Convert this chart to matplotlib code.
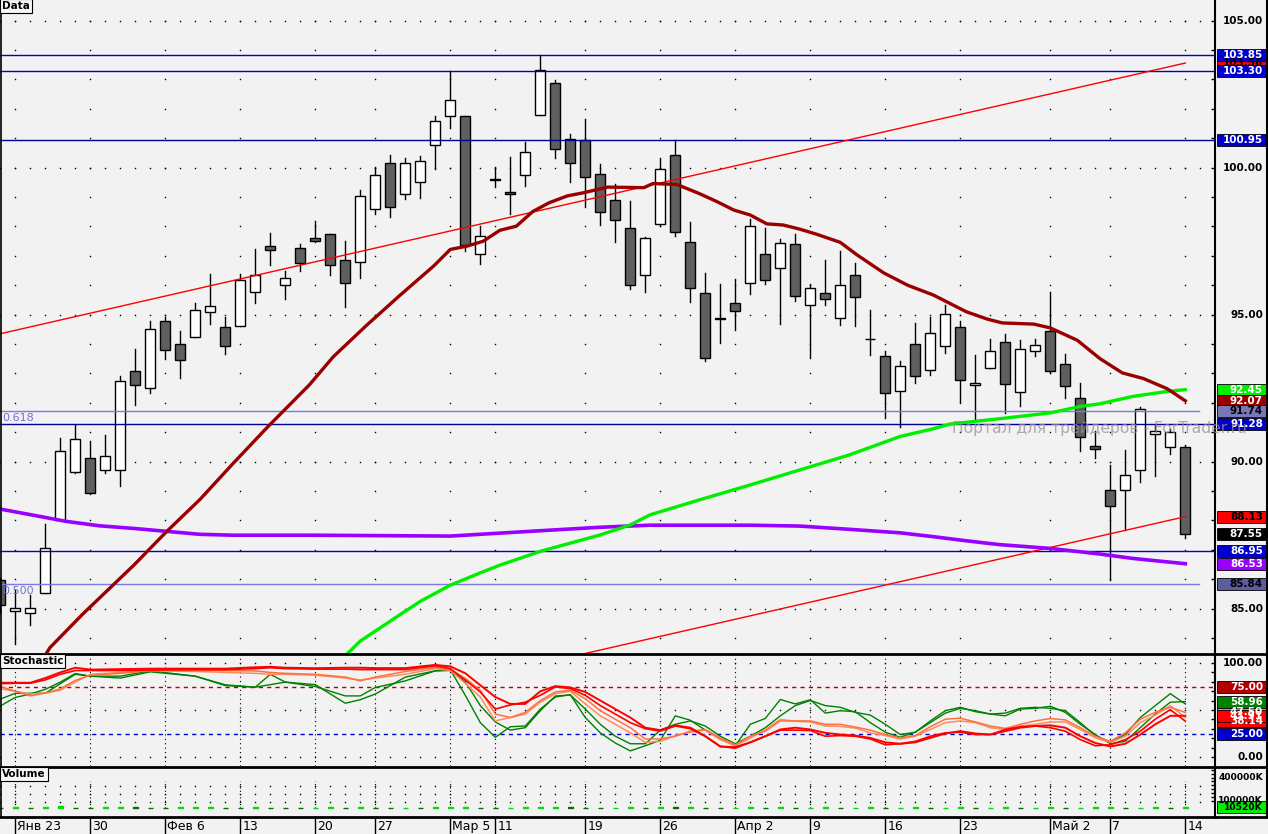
import numpy as np
import matplotlib
matplotlib.use("Agg")
import matplotlib.pyplot as plt
from matplotlib.patches import Rectangle
from matplotlib.lines import Line2D
import matplotlib.transforms as mtrans

W, H = 1268, 834

# one candle per trading day, index 0 = Jan 23
day_idx = list(range(-1, 79))
opens = [85.97, 84.93, 84.84, 85.55, 88.00, 89.66, 90.14, 89.73, 89.73, 93.08,
         92.52, 94.78, 94.00, 94.24, 95.10, 94.58, 94.61, 95.76, 97.34, 96.01,
         97.27, 97.60, 97.75, 96.87, 96.80, 98.59, 100.17, 99.12, 99.50, 100.78,
         101.76, 101.76, 97.07, 99.63, 99.16, 99.74, 101.79, 102.87, 100.98, 100.93,
         99.80, 98.89, 97.94, 96.35, 98.08, 100.44, 97.47, 95.74, 94.89, 95.40,
         96.07, 97.06, 96.59, 97.40, 95.34, 95.74, 94.90, 96.35, 94.18, 93.61,
         92.40, 94.01, 93.12, 93.94, 94.59, 92.61, 93.19, 94.08, 92.37, 93.77,
         94.45, 93.33, 92.17, 90.53, 89.03, 89.03, 89.71, 90.94, 90.50, 90.50]
highs = [86.05, 85.65, 85.48, 87.87, 90.80, 91.24, 90.69, 90.92, 92.93, 93.85,
         94.78, 94.91, 94.46, 95.39, 96.40, 94.93, 96.38, 97.25, 97.78, 96.47,
         97.41, 98.20, 97.75, 97.49, 99.24, 100.02, 100.42, 100.32, 100.39, 101.76,
         103.28, 101.76, 98.03, 100.02, 100.35, 100.89, 103.85, 102.98, 101.16, 101.64,
         100.12, 99.46, 98.87, 97.65, 100.32, 100.93, 98.16, 96.42, 96.03, 96.23,
         98.26, 97.95, 97.58, 97.74, 96.03, 96.87, 97.17, 96.76, 95.15, 93.75,
         93.41, 94.73, 94.91, 95.34, 94.77, 93.63, 94.18, 94.33, 94.14, 94.18,
         95.76, 93.67, 92.68, 91.03, 89.88, 90.39, 91.86, 91.25, 91.11, 90.58]
lows = [84.85, 83.80, 84.46, 85.55, 88.00, 89.60, 88.90, 89.61, 89.19, 91.93,
        92.33, 93.49, 92.86, 94.24, 94.68, 93.66, 94.61, 95.39, 96.68, 95.52,
        96.48, 97.48, 96.35, 95.27, 96.25, 98.44, 98.34, 98.95, 98.98, 99.96,
        101.34, 97.16, 96.74, 99.35, 98.41, 99.39, 101.79, 100.33, 99.52, 98.65,
        98.04, 97.46, 95.87, 95.77, 98.03, 97.66, 95.43, 93.43, 94.04, 94.48,
        95.70, 96.04, 94.67, 95.45, 93.52, 95.33, 94.65, 94.62, 93.64, 91.47,
        91.17, 92.67, 92.94, 93.69, 92.02, 91.46, 93.19, 91.64, 91.88, 93.59,
        93.02, 92.17, 90.35, 90.11, 85.98, 87.67, 89.30, 89.50, 90.25, 87.42]
closes = [85.11, 85.01, 85.02, 87.05, 90.37, 90.78, 88.92, 90.18, 92.76, 92.62,
          94.51, 93.81, 93.46, 95.16, 95.29, 93.94, 96.19, 96.35, 97.19, 96.25,
          96.76, 97.51, 96.70, 96.09, 99.03, 99.74, 98.66, 100.17, 100.24, 101.59,
          102.30, 97.38, 97.68, 99.57, 99.10, 100.55, 103.31, 100.65, 100.17, 99.67,
          98.49, 98.21, 96.01, 97.60, 99.97, 97.81, 95.91, 93.53, 94.87, 95.12,
          98.01, 96.18, 97.43, 95.64, 95.91, 95.54, 96.01, 95.61, 94.16, 92.33,
          93.24, 92.92, 94.38, 95.03, 92.78, 92.68, 93.77, 92.64, 93.84, 93.97,
          93.09, 92.58, 90.84, 90.43, 88.48, 89.54, 91.79, 91.04, 91.01, 87.55]
volumes_k = [9000, 16000, 9000, 17000, 24000, 10000, 9000, 11000, 19000, 17000,
             10000, 9000, 11000, 13000, 20000, 10000, 9000, 11000, 10000, 9000,
             8500, 10000, 11000, 9000, 12000, 10000, 9000, 10000, 9000, 11000,
             14000, 22000, 10000, 9000, 10000, 11000, 20000, 22000, 11000, 10000,
             9000, 10000, 11000, 9000, 12000, 11000, 18000, 10000, 9000, 10000,
             18000, 10000, 11000, 9000, 10000, 11000, 9000, 10000, 11000, 9000,
             10000, 11000, 9000, 10000, 11000, 9000, 10000, 11000, 9000, 10000,
             11000, 9000, 10000, 11000, 12000, 9000, 10000, 11000, 9000, 10520]

date_idx = [0, 5, 10, 15, 20, 24, 29, 32, 38, 43, 48, 53, 58, 63, 69, 73, 78]
date_labels = ["Янв 23", "30", "Фев 6", "13", "20", "27", "Мар 5", "11", "19",
               "26", "Апр 2", "9", "16", "23", "Май 2", "7", "14"]

# moving averages
ma_red_x = [1.5, 2.3, 4.5, 7.9, 10.1, 12.3, 14.5, 16.8, 19.6, 21.2, 23.4, 25.6, 27.9, 29.0,
            30.1, 31.2, 32.3, 33.4, 34.5, 35.6, 36.8, 37.9, 39.5, 41.9, 42.5, 44.1, 45.6,
            46.8, 47.9, 49.0, 50.1, 51.2, 52.3, 53.4, 55.0, 56.1, 57.9, 59.5, 61.2, 63.4,
            64.8, 65.8, 67.9, 69.0, 70.8, 72.3, 73.8, 75.2, 76.8, 78.0]
ma_red_y = [83.0, 83.67, 84.82, 86.48, 87.63, 88.71, 89.93, 91.17, 92.61, 93.57, 94.63, 95.64,
            96.66, 97.22, 97.33, 97.50, 97.87, 98.01, 98.51, 98.81, 99.04, 99.15, 99.34, 99.32,
            99.46, 99.43, 99.12, 98.84, 98.56, 98.39, 98.09, 98.05, 97.91, 97.74, 97.46, 97.04,
            96.42, 96.00, 95.67, 95.10, 94.85, 94.72, 94.68, 94.55, 94.13, 93.51, 93.02, 92.83,
            92.48, 92.07]
ma_green_x = [21.8, 23.0, 25.6, 27.0, 29.0, 31.0, 32.3, 35.0, 39.0, 41.0, 42.3, 45.6, 49.0,
              52.3, 55.6, 59.0, 61.2, 62.3, 65.6, 69.0, 71.0, 72.3, 74.5, 76.8, 78.0]
ma_green_y = [83.3, 83.9, 84.78, 85.25, 85.80, 86.22, 86.48, 86.95, 87.51, 87.85, 88.19, 88.70,
              89.21, 89.72, 90.23, 90.86, 91.12, 91.28, 91.46, 91.66, 91.88, 91.97, 92.22,
              92.39, 92.45]
ma_purple_x = [-1.02, 1.2, 3.4, 5.6, 7.9, 10.1, 12.3, 14.5, 19.6, 29.0, 35.6, 39.0, 42.3,
               49.0, 52.3, 55.6, 59.0, 61.2, 63.4, 65.6, 69.0, 72.3, 74.5, 78.0]
ma_purple_y = [88.39, 88.18, 87.97, 87.82, 87.73, 87.63, 87.53, 87.50, 87.50, 87.47, 87.67,
               87.77, 87.84, 87.84, 87.81, 87.70, 87.58, 87.45, 87.31, 87.18, 87.05, 86.86,
               86.71, 86.53]

chan_upper_x = [-1.02, 78]
chan_upper_y = [94.35, 103.56]
chan_lower_x = [37.5, 78]
chan_lower_y = [83.42, 88.13]

levels_blue = [103.85, 103.30, 86.95]
levels_navy = [100.95, 91.28]
fib_levels = [91.74, 85.84]
fib_names = ["0.618", "0.500"]

# stochastic lines
stoch_x = [-1, 0, 1, 2, 3, 4, 5, 7, 9, 12, 14, 16, 17, 18, 20, 22, 23, 24, 26, 28] + list(range(29, 79))
st_green1 = [61.6, 67.8, 67.8, 67.8, 78, 88, 86, 84, 90.6, 86, 76.8, 74.3, 88, 79.7, 77, 57.2, 61, 67, 85, 91.7,
             92.8, 65.6, 36.6, 21, 32.2, 33, 51, 63.8, 66.3, 42,
             25.7, 14.9, 6.5, 12, 17.8, 43.8, 39.1, 28.6, 19.2, 12,
             34.8, 41, 61.2, 56.5, 60.9, 46.7, 49.3, 48.2, 36.6, 26.4,
             21, 26.4, 38.4, 49.3, 52.9, 48.2, 45.7, 43.8, 51, 51.8,
             54, 47.5, 34.8, 23.9, 14.1, 16.7, 31.2, 45.7, 58.3, 58.96]
st_green2 = [54.3, 63.4, 67, 72, 79.7, 88.8, 86, 86, 91.7, 86, 76, 74.3, 77, 79.7, 75, 65, 65, 74, 81, 91.7,
             92, 80, 54.7, 37.3, 28.6, 31.2, 49.3, 64.9, 66, 51,
             34.8, 22.1, 14.1, 14.1, 28.6, 34.8, 38.4, 33, 22.1, 14.1,
             22.1, 31.2, 43.8, 54.7, 60.1, 54.7, 52.9, 47.5, 44.6, 34.8,
             23.9, 26.4, 36.6, 46.7, 51.8, 49.3, 45.7, 46.7, 51.8, 52.9,
             51.8, 49.3, 36.6, 22.8, 15.6, 23.9, 42, 54.7, 67.4, 56.5]
st_orange1 = [75, 70, 65, 68, 72.5, 81.5, 87, 89, 92, 92, 92, 91.5, 90, 89, 88, 85, 81, 85, 91, 95.3,
              93, 83.7, 71, 45.7, 42, 47.5, 60.1, 69.2, 71, 62,
              49.3, 40.2, 31.2, 19.2, 19.2, 22.1, 27.5, 29.3, 20.3, 13,
              22.1, 27.5, 38.4, 38.4, 38.4, 34.8, 34.8, 31.9, 28.6, 23.9,
              20.3, 22.8, 32.2, 40.2, 41.3, 37.3, 33, 30.4, 34.8, 38.4,
              40.9, 39.5, 31.2, 22.1, 16.7, 25.7, 40.2, 47.5, 52.9, 47.5]
st_orange2 = [72.5, 70, 67, 68, 71, 79.7, 88, 90, 92, 91, 90, 89, 88, 88, 87, 84, 82, 84, 88, 94,
              92, 78.3, 63.8, 38.4, 42, 45.7, 58.3, 67.4, 69.9, 56.5,
              43.8, 34.8, 25.7, 15.6, 16.7, 22.8, 26.4, 28.6, 18.5, 12,
              20, 29.3, 40, 38, 37.3, 33, 32.6, 30.8, 25.7, 22.8,
              19.2, 22.1, 29.3, 36.6, 38.4, 36.6, 31.2, 29.3, 33, 34.8,
              37.3, 37.3, 29.3, 20.3, 15.6, 22.1, 36.6, 44.6, 54.7, 42]
st_red1 = [79, 79, 79, 84, 90, 95, 93, 93.5, 94, 94, 94, 95.5, 96, 95, 94.5, 95, 95, 94.6, 94.6, 98,
           96.4, 89.1, 76.4, 63.8, 56.5, 56.5, 69.9, 75.4, 74, 69.2,
           60.1, 51, 42, 31.2, 28.6, 33.7, 31.2, 22.1, 11.2, 10.5,
           15.6, 22.1, 29.3, 31.2, 29.3, 25.7, 23.9, 22.8, 20.3, 15.6,
           14.1, 15.6, 20.3, 25, 27.5, 25, 23.9, 27.5, 31.2, 33,
           33.7, 31.2, 22.1, 14.9, 11.2, 14.1, 23.9, 34.8, 43.8, 43.91]
st_red2 = [78, 78.5, 78.5, 82, 88, 92, 92, 92, 92.5, 93, 93, 94, 95, 94, 93.5, 93.5, 93, 93, 93, 97,
           94, 81.9, 69.2, 51, 55.4, 58.3, 65.6, 74.6, 72.8, 65.6,
           54.7, 45.7, 36.6, 30.1, 27.5, 33, 30.1, 22.1, 11.2, 9.4,
           15.6, 22.1, 28.6, 28.6, 28.2, 22.1, 22.8, 22.1, 19.2, 13,
           14.1, 16.7, 22.1, 25.7, 26.4, 23.9, 23.9, 29.3, 32.2, 33,
           31.2, 27.5, 18.5, 12, 13, 18.5, 27.5, 40.2, 50.4, 38.14]
stoch_levels = [75, 25]

BG = "#f2f2f2"
X_LEFT = -1.02
X_RIGHT = (1215 - 15.3) / 15.0


def px_axes(fig, x0, y0, x1, y1):
    return fig.add_axes([x0 / W, 1 - y1 / H, (x1 - x0) / W, (y1 - y0) / H])


def setup(ax, ylim):
    ax.set_facecolor(BG)
    ax.set_xlim(X_LEFT, X_RIGHT)
    ax.set_ylim(*ylim)
    ax.set_xticks([])
    for s in ["top", "bottom", "left"]:
        ax.spines[s].set_visible(False)
    ax.spines["right"].set_linewidth(1.5)
    ax.yaxis.tick_right()
    ax.tick_params(axis="y", direction="in", length=3, width=1, labelright=False)


def dots(ax, xs, ys):
    ax.plot(xs, ys, ls="none", marker="s", ms=1.0, mew=0, color="black", zorder=1)


def right_label(ax, y, text, fc=None, tc="black", size=7.5, zorder=10):
    lo, hi = ax.get_ylim()
    ax_h = ax.get_position().height * H
    unit = (hi - lo) / ax_h
    tr = mtrans.blended_transform_factory(ax.transAxes, ax.transData)
    ax_w = ax.get_position().width * W
    if fc is not None:
        ax.add_patch(Rectangle((1217 / ax_w, y - 6 * unit), 49 / ax_w, 12 * unit,
                               transform=tr, facecolor=fc, edgecolor="black", lw=0.6,
                               clip_on=False, zorder=zorder))
    ax.text(1263 / ax_w, y, text, transform=tr, ha="right", va="center",
            fontsize=size, fontweight="bold", color=tc, clip_on=False, zorder=zorder + 0.5)


fig = plt.figure(figsize=(W / 100, H / 100), dpi=100, facecolor=BG)

# ---------------- price panel ----------------
ax = px_axes(fig, 0, 0, 1215, 653)
setup(ax, (83.493, 105.704))
ax.set_yticks(np.arange(84, 106, 1))

pos = np.array(day_idx)
for p in [85, 90, 95, 100, 105]:
    dots(ax, np.arange(-1, 80), [p] * 81)
for d in date_idx:
    dots(ax, [d] * 22, np.arange(84, 106))

for i, x in enumerate(pos):
    o, h, l, c = opens[i], highs[i], lows[i], closes[i]
    ax.plot([x, x], [l, h], color="black", lw=1, zorder=2)
    fc = "white" if c >= o else "#5f5f5f"
    ax.add_patch(Rectangle((x - 0.33, min(o, c)), 0.66, max(abs(c - o), 0.01),
                           facecolor=fc, edgecolor="black", lw=1, zorder=2.5))

for lv in levels_blue:
    ax.axhline(lv, color="#0000cc", lw=1, zorder=3)
for lv in levels_navy:
    ax.axhline(lv, color="#000099", lw=1, zorder=3)
for lv, name in zip(fib_levels, fib_names):
    ax.plot([X_LEFT, 78.9], [lv, lv], color="#7a7ae0", lw=1, zorder=3)
    ax.text(0.002, lv - 0.25, name, transform=mtrans.blended_transform_factory(ax.transAxes, ax.transData),
            color="#6f6fd8", fontsize=8, va="center", ha="left", zorder=3)

ax.plot(chan_upper_x, chan_upper_y, color="#ff0000", lw=1, zorder=3)
ax.plot(chan_lower_x, chan_lower_y, color="#ff0000", lw=1, zorder=3)
ax.plot(ma_purple_x, ma_purple_y, color="#9a00ff", lw=2.6, zorder=3.5)
ax.plot(ma_green_x, ma_green_y, color="#00ee00", lw=2.4, zorder=3.5)
ax.plot(ma_red_x, ma_red_y, color="#990000", lw=2.4, zorder=3.5)

for v in [105, 100, 95, 90, 85]:
    right_label(ax, v, f"{v:.2f}")
right_label(ax, chan_upper_y[-1], f"{chan_upper_y[-1]:.2f}", "#ff0000", "black")
right_label(ax, levels_blue[0], f"{levels_blue[0]:.2f}", "#0000cc", "white")
right_label(ax, levels_blue[1], f"{levels_blue[1]:.2f}", "#0000cc", "white")
right_label(ax, levels_navy[0], f"{levels_navy[0]:.2f}", "#0000cc", "white")
right_label(ax, ma_green_y[-1], f"{ma_green_y[-1]:.2f}", "#00ee00", "white")
right_label(ax, ma_red_y[-1], f"{ma_red_y[-1]:.2f}", "#990000", "white")
right_label(ax, fib_levels[0], f"{fib_levels[0]:.2f}", "#7878b8", "black")
right_label(ax, levels_navy[1], f"{levels_navy[1]:.2f}", "#0000cc", "white")
right_label(ax, chan_lower_y[-1], f"{chan_lower_y[-1]:.2f}", "#ff0000", "black")
right_label(ax, closes[-1], f"{closes[-1]:.2f}", "black", "white")
right_label(ax, levels_blue[2], f"{levels_blue[2]:.2f}", "#0000cc", "white")
right_label(ax, ma_purple_y[-1], f"{ma_purple_y[-1]:.2f}", "#9a00ff", "white")
right_label(ax, fib_levels[1], f"{fib_levels[1]:.2f}", "#5c5ca0", "black")

# ---------------- stochastic panel ----------------
ax2 = px_axes(fig, 0, 654, 1215, 766)
setup(ax2, (-9.57, 109.6))
ax2.set_yticks(np.arange(0, 101, 10))
for p in [0, 50, 100]:
    dots(ax2, np.arange(-1, 80), [p] * 81)
for d in date_idx:
    ax2.axvline(d, color="black", lw=0.8, ls=(0, (1, 3)), zorder=1)
ax2.axhline(stoch_levels[0], color="#b00000", lw=1, ls=(0, (3, 3)), zorder=2)
ax2.axhline(stoch_levels[1], color="#0000cc", lw=1, ls=(0, (3, 3)), zorder=2)
ax2.plot(stoch_x, st_green2, color="#008000", lw=1, zorder=3)
ax2.plot(stoch_x, st_green1, color="#008000", lw=1, zorder=3)
ax2.plot(stoch_x, st_orange2, color="#ff8c5a", lw=1.1, zorder=3)
ax2.plot(stoch_x, st_orange1, color="#ff7040", lw=1.1, zorder=3)
ax2.plot(stoch_x, st_red2, color="#ff0000", lw=1.2, zorder=3)
ax2.plot(stoch_x, st_red1, color="#ff0000", lw=1.4, zorder=3)

right_label(ax2, 100, "100.00")
right_label(ax2, 0, "0.00")
right_label(ax2, stoch_levels[0], f"{stoch_levels[0]:.2f}", "#b00000", "white")
right_label(ax2, st_orange1[-1], f"{st_orange1[-1]:.2f}", "#ff8050", "white")
right_label(ax2, st_red2[-1], f"{st_red2[-1]:.2f}", "#ff0000", "white")
right_label(ax2, st_red1[-1], f"{st_red1[-1]:.2f}", "#ff0000", "white")
right_label(ax2, st_green1[-1], f"{st_green1[-1]:.2f}", "#008000", "white")
right_label(ax2, stoch_levels[1], f"{stoch_levels[1]:.2f}", "#0000cc", "white")

# ---------------- volume panel ----------------
ax3 = px_axes(fig, 0, 767, 1215, 816)
setup(ax3, (-100430, 538700))
ax3.set_yticks(np.arange(100000, 500001, 50000))
for p in [290000, 186000, 86000]:
    dots(ax3, np.arange(-1, 80), [p] * 81)
for d in date_idx:
    ax3.plot([d, d], [0, 350000], color="black", lw=0.8, ls=(0, (1, 2)), zorder=1)
prev = volumes_k[0]
for x, v in zip(pos, volumes_k):
    col = "#00dd00" if v > prev else "#006f00"
    ax3.bar(x, v, width=0.33, bottom=0, color=col, edgecolor=col, lw=1.0, zorder=2)
    prev = v
right_label(ax3, 400000, "400000K", size=6.6)
right_label(ax3, 100000, "100000K", size=6.6)
right_label(ax3, 10520, f"{volumes_k[-1]}K", "#00ee00", "black", size=6.6)

# ---------------- frame, titles, dates ----------------
def fig_line(x0, y0, x1, y1, lw=2):
    fig.add_artist(Line2D([x0 / W, x1 / W], [1 - y0 / H, 1 - y1 / H], color="black", lw=lw))


fig_line(0, 653.5, 1267, 653.5)
fig_line(0, 766.5, 1267, 766.5)
fig_line(0, 817, 1215, 817)
fig_line(1215, 817, 1267, 817)
fig_line(1266.5, 0, 1266.5, 817, lw=1.5)
fig_line(0.5, 0, 0.5, 817, lw=1.2)

for d, lab in zip(date_idx, date_labels):
    xp = 15.3 + 15 * d
    fig_line(xp, 818, xp, 834, lw=1)
    fig.text((xp + 2) / W, 1 - 826.5 / H, lab, fontsize=9, va="center", ha="left")

box = dict(boxstyle="square,pad=0.18", facecolor="#f7f7f7", edgecolor="black", lw=0.8)
fig.text(2 / W, 1 - 6 / H, "Data", fontsize=7.5, fontweight="bold", va="center", ha="left", bbox=box)
fig.text(2 / W, 1 - 661 / H, "Stochastic", fontsize=7.5, fontweight="bold", va="center", ha="left", bbox=box)
fig.text(2 / W, 1 - 774 / H, "Volume", fontsize=7.5, fontweight="bold", va="center", ha="left", bbox=box)

fig.text(952 / W, 1 - 428 / H, "Портал для трейдеров - ForTrader.ru", fontsize=11.2,
         color="#9c8e8e", alpha=0.75, va="center", ha="left", zorder=20)

fig.savefig("out.png", dpi=100, facecolor=BG)
